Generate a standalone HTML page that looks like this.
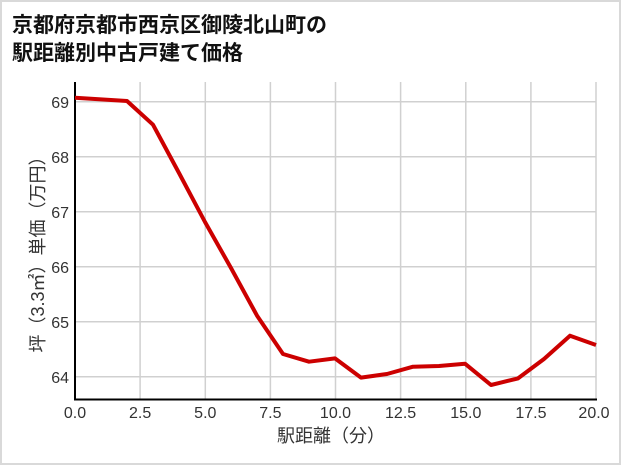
<!DOCTYPE html>
<html><head><meta charset="utf-8"><style>
html,body{margin:0;padding:0;background:#fff}
body{width:621px;height:465px;overflow:hidden}
.frame{position:absolute;left:0;top:0;width:617px;height:461px;border:2px solid #d9d9d9;}
text{font-family:"Liberation Sans","Noto Sans CJK JP",sans-serif}
</style></head><body>
<div class="frame"></div>
<svg width="621" height="465" style="position:absolute;left:0;top:0">
<text x="12" y="32" font-size="21" font-weight="bold" fill="#111">京都府京都市西京区御陵北山町の</text>
<text x="12" y="60" font-size="21" font-weight="bold" fill="#111">駅距離別中古戸建て価格</text>
<g stroke="#d0d0d0" stroke-width="1.5">
<line x1="75" y1="82" x2="75" y2="399"/>
<line x1="140.1" y1="82" x2="140.1" y2="399"/>
<line x1="205.3" y1="82" x2="205.3" y2="399"/>
<line x1="270.4" y1="82" x2="270.4" y2="399"/>
<line x1="335.5" y1="82" x2="335.5" y2="399"/>
<line x1="400.6" y1="82" x2="400.6" y2="399"/>
<line x1="465.8" y1="82" x2="465.8" y2="399"/>
<line x1="530.9" y1="82" x2="530.9" y2="399"/>
<line x1="596" y1="82" x2="596" y2="399"/>
<line x1="75" y1="101.7" x2="596" y2="101.7"/>
<line x1="75" y1="156.7" x2="596" y2="156.7"/>
<line x1="75" y1="211.7" x2="596" y2="211.7"/>
<line x1="75" y1="266.7" x2="596" y2="266.7"/>
<line x1="75" y1="321.7" x2="596" y2="321.7"/>
<line x1="75" y1="376.7" x2="596" y2="376.7"/>
</g>
<line x1="75" y1="82" x2="75" y2="400" stroke="#000" stroke-width="2"/>
<line x1="74" y1="399.5" x2="597" y2="399.5" stroke="#000" stroke-width="2"/>
<g font-size="16" fill="#333" text-anchor="end">
<text x="69" y="108">69</text><text x="69" y="163">68</text><text x="69" y="218">67</text>
<text x="69" y="273">66</text><text x="69" y="328">65</text><text x="69" y="383">64</text>
</g>
<g font-size="16" fill="#333" text-anchor="middle">
<text x="75" y="418">0.0</text><text x="140.1" y="418">2.5</text><text x="205.3" y="418">5.0</text>
<text x="270.4" y="418">7.5</text><text x="335.5" y="418">10.0</text><text x="400.6" y="418">12.5</text>
<text x="465.8" y="418">15.0</text><text x="530.9" y="418">17.5</text><text x="594" y="418">20.0</text>
<text x="331" y="442" font-size="18">駅距離（分）</text>
</g>
<text transform="translate(44,250) rotate(-90)" font-size="18" fill="#333" text-anchor="middle">坪（3.3㎡）単価（万円）</text>
<polyline fill="none" stroke="#cc0000" stroke-width="4" stroke-linejoin="round" points="75,97.8 127,101 153,124.7 179,173 205,222 231,268 257,315.6 283,354 309,361.7 335,358.4 361,377.6 387,374 413,366.7 439,366 465,363.7 491,385 518,378.4 544,359 570,335.7 596,345"/>
</svg>
</body></html>
